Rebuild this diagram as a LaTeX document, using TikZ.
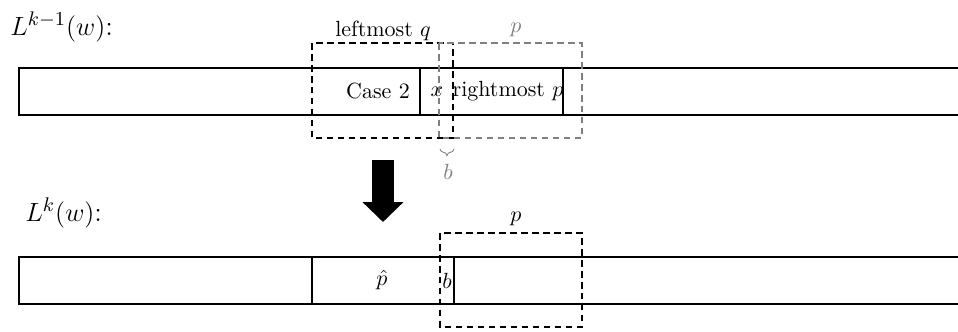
\documentclass[tikz,border=0pt]{standalone}
\usetikzlibrary{positioning,arrows.meta,decorations.pathreplacing}

\begin{document}
\begin{tikzpicture}[x=0.016cm, y=-0.016cm,
    bar/.style={draw, line width=1pt},
    window/.style={draw, line width=1.2pt, dash pattern=on 3pt off 2pt},
    faded/.style={gray},
    label/.style={inner sep=0pt, font=\fontsize{12.8pt}{15pt}\selectfont}]
  \useasboundingbox (0,0) rectangle (958,332);
  \clip (0,0) rectangle (958,332);

  % Row labels
  \node[label, anchor=west] (prev) at (10,27) {$L^{k-1}(w)$:};
  \node[label, anchor=west] (next) at (25,213) {$L^k(w)$:};

  % Top bar
  \draw[bar] (19,68) rectangle (1000,115);
  \draw[bar] (420,68) -- (420,115);
  \draw[bar] (563,68) -- (563,115);
  \node (case) at (378,91.5) {Case 2};
  \node (x) at (437,91.5) {$x$};
  \node (rp) at (508,91.5) {rightmost $p$};

  % Windows on top bar
  \draw[window] (312,43) rectangle (453,138);
  \draw[window, faded] (439,43) rectangle (582,138);
  \node (q) at (383,31) {leftmost $q$};
  \node[faded] (p1) at (516,30) {$p$};

  % Overlap
  \draw[faded, decorate, decoration={brace, mirror, amplitude=3pt}] (440,149) -- (454,149);
  \node[faded] (b1) at (448,172) {$b$};

  % Step arrow
  \coordinate (from) at (383,160);
  \coordinate (to) at (383,222);
  \draw[line width=10pt, -{Triangle[length=9pt, width=18pt]}] (from) -- (to);

  % Bottom bar
  \draw[bar] (19,257) rectangle (1000,304);
  \draw[bar] (312,257) -- (312,304);
  \draw[bar] (454,257) -- (454,304);
  \node (phat) at (382,280.5) {$\hat{p}$};
  \node (b2) at (447,280.5) {$b$};

  % Window on bottom bar
  \draw[window] (440,233) rectangle (582,327);
  \node (p2) at (516,219) {$p$};
\end{tikzpicture}
\end{document}
